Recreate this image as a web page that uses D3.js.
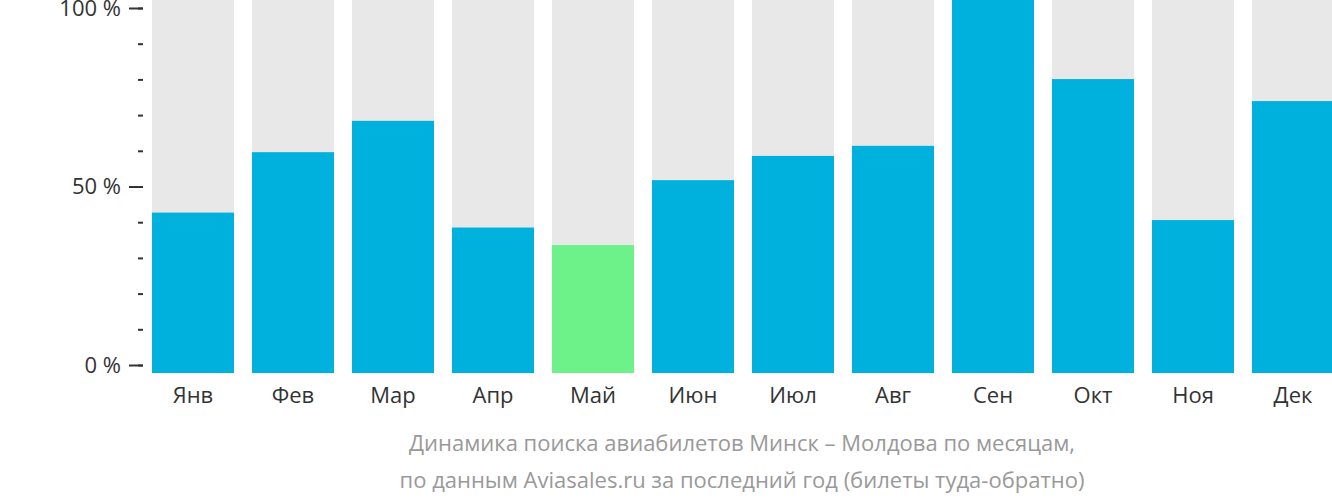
<!DOCTYPE html>
<meta charset='utf-8'>
<style>
    body { margin: 0; background: #fff; }
    text { font-family: 'Open Sans', 'Noto Sans', sans-serif; }
    .tick text { font-size: 22px; fill: #333; }
    .caption { font-size: 22px; fill: #999; text-anchor: middle; }
</style>
<svg width="1332" height="502"></svg>
<script src="https://d3js.org/d3.v7.min.js"></script>
<script>
var months = ['Янв', 'Фев', 'Мар', 'Апр', 'Май', 'Июн', 'Июл', 'Авг', 'Сен', 'Окт', 'Ноя', 'Дек'];
var values = [43, 59.2, 67.6, 39, 34.3, 51.7, 58.2, 60.9, 100, 78.8, 41, 72.9];
var highlight = 'Май';
var yTicks = [0, 50, 100];

var svg = d3.select('svg');

var x = d3.scaleBand()
    .domain(months)
    .range([143, 1343])
    .paddingInner(0.18)
    .paddingOuter(0.09);

var yBar = d3.scaleLinear().domain([0, 100]).range([373, 0]);
var yAxis = d3.scaleLinear().domain([0, 100]).range([365, 8]);

svg.append('g').selectAll('rect.bg')
    .data(months)
    .enter().append('rect')
    .attr('x', function(d) { return x(d); })
    .attr('y', 0)
    .attr('width', x.bandwidth())
    .attr('height', yBar(0))
    .attr('fill', '#e8e8e8');

svg.append('g').selectAll('rect.bar')
    .data(values)
    .enter().append('rect')
    .attr('x', function(d, i) { return x(months[i]); })
    .attr('y', function(d) { return yBar(d); })
    .attr('width', x.bandwidth())
    .attr('height', function(d) { return yBar(0) - yBar(d); })
    .attr('fill', function(d, i) { return months[i] === highlight ? '#6cf288' : '#00b0dd'; });

// minor ticks
svg.append('g')
    .attr('transform', 'translate(143,0)')
    .call(d3.axisLeft(yAxis).tickValues(d3.range(0, 101, 10)).tickSize(5).tickFormat(''))
    .call(function(g) { g.select('.domain').remove(); g.selectAll('line').attr('stroke', '#333').attr('stroke-width', 2); });

svg.append('g')
    .attr('transform', 'translate(143,0)')
    .call(d3.axisLeft(yAxis).tickValues(yTicks).tickSize(14).tickPadding(8).tickFormat(function(d) { return d + ' %'; }))
    .call(function(g) { g.select('.domain').remove(); g.selectAll('line').attr('stroke', '#333').attr('stroke-width', 2); });

svg.append('g')
    .attr('transform', 'translate(0,373)')
    .call(d3.axisBottom(x).tickSize(0).tickPadding(14))
    .call(function(g) { g.select('.domain').remove(); });

svg.append('text').attr('class', 'caption').attr('x', 742).attr('y', 451)
    .text('Динамика поиска авиабилетов Минск – Молдова по месяцам,');
svg.append('text').attr('class', 'caption').attr('x', 742).attr('y', 488)
    .text('по данным Aviasales.ru за последний год (билеты туда-обратно)');
</script>
